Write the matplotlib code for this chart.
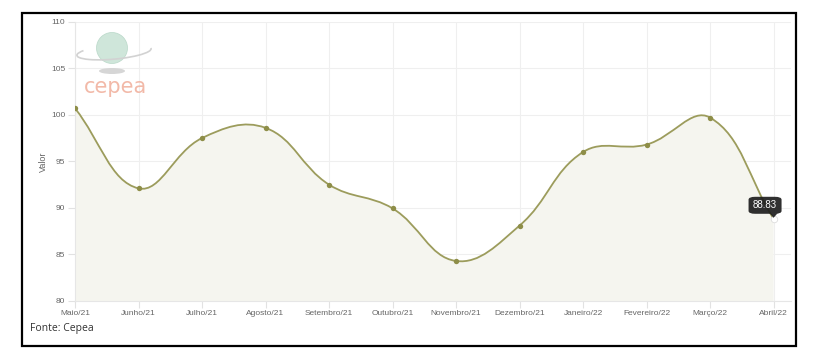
"""Cepea price index line chart (Maio/21 - Abril/22)."""
import matplotlib

matplotlib.use("Agg")
import matplotlib.pyplot as plt  # noqa: E402
import numpy as np  # noqa: E402
from matplotlib.path import Path  # noqa: E402
from matplotlib.patches import PathPatch, FancyBboxPatch, Ellipse, Arc, Rectangle, Polygon  # noqa: E402

months = ["Maio/21", "Junho/21", "Julho/21", "Agosto/21", "Setembro/21", "Outubro/21",
          "Novembro/21", "Dezembro/21", "Janeiro/22", "Fevereiro/22", "Março/22", "Abril/22"]
values = [100.7, 92.1, 97.5, 98.6, 92.5, 89.95, 84.3, 88.1, 96.0, 96.8, 99.7, 88.83]
y_ticks = [80, 85, 90, 95, 100, 105, 110]

C_LINE = "#9c9c5c"
C_POINT = "#8e8e48"
C_FILL = "#f5f5ef"
C_GRID = "#efefef"
C_TICK = "#666666"

plt.rcParams.update({"font.family": ["Liberation Sans", "DejaVu Sans"]})

W, H = 820, 356
fig = plt.figure(figsize=(W / 100, H / 100), dpi=100)
ax = fig.add_axes([75 / W, 55 / H, (790.7 - 75) / W, (334.3 - 55) / H])

x = np.arange(len(values))
ax.set_xlim(0, 11.27)
ax.set_ylim(80, 110)


def spline_path(xs, ys, tension=0.4):
    """Chart.js style bezier through points, computed in display space."""
    pts = ax.transData.transform(np.column_stack([xs, ys]))
    n = len(pts)
    verts, codes = [pts[0]], [Path.MOVETO]
    ctrl = []
    for i in range(n):
        prev = pts[max(i - 1, 0)]
        cur = pts[i]
        nxt = pts[min(i + 1, n - 1)]
        d01 = np.hypot(*(cur - prev))
        d12 = np.hypot(*(nxt - cur))
        tot = d01 + d12 if d01 + d12 > 0 else 1
        fa = tension * d01 / tot
        fb = tension * d12 / tot
        ctrl.append((cur - fa * (nxt - prev), cur + fb * (nxt - prev)))
    for i in range(1, n):
        verts += [ctrl[i - 1][1], ctrl[i][0], pts[i]]
        codes += [Path.CURVE4] * 3
    verts = ax.transData.inverted().transform(np.array(verts))
    return verts, codes


verts, codes = spline_path(x, values)

# filled area under the curve
fill_verts = np.vstack([verts, [[x[-1], 80], [x[0], 80], verts[0]]])
fill_codes = codes + [Path.LINETO, Path.LINETO, Path.CLOSEPOLY]
ax.add_patch(PathPatch(Path(fill_verts, fill_codes), facecolor=C_FILL, edgecolor="none", zorder=1))
ax.add_patch(PathPatch(Path(verts, codes), facecolor="none", edgecolor=C_LINE, linewidth=1.3, zorder=3))

ax.scatter(x[:-1], values[:-1], s=15, color=C_POINT, zorder=4, linewidths=0)
ax.scatter(x[-1:], values[-1:], s=22, color="white", edgecolors="#dddddd", linewidths=0.6, zorder=4)

ax.set_xticks(x)
ax.set_xticklabels(months)
ax.set_yticks(y_ticks)
ax.grid(True, color=C_GRID, linewidth=0.8)
ax.set_axisbelow(True)
for s in ["top", "right"]:
    ax.spines[s].set_visible(False)
for s in ["left", "bottom"]:
    ax.spines[s].set_color("#e6e6e6")
    ax.spines[s].set_linewidth(0.8)
ax.tick_params(axis="both", colors="#e2e2e2", length=5, width=0.8, labelcolor=C_TICK, labelsize=6)
ax.tick_params(axis="x", pad=1.5)
ax.tick_params(axis="y", pad=2)
ax.set_ylabel("Valor", color=C_TICK, fontsize=6.5, labelpad=2)

# tooltip on the last point
tip_x, tip_y = x[-1], values[-1]
px, py = ax.transData.transform((tip_x, tip_y))
bw, bh = 33, 17
box_x, box_y = px - 25, py + 5
fig.patches.append(FancyBboxPatch((box_x / W, box_y / H), bw / W, bh / H,
                                  boxstyle="round,pad=0,rounding_size=0.008",
                                  transform=fig.transFigure, facecolor="#1e1e1e",
                                  edgecolor="none", alpha=0.92, zorder=10))
fig.patches.append(Polygon([((px - 4) / W, (box_y + 0.5) / H), ((px + 4) / W, (box_y + 0.5) / H),
                            (px / W, (box_y - 4) / H)], closed=True, transform=fig.transFigure,
                           facecolor="#1e1e1e", edgecolor="none", alpha=0.92, zorder=10))
fig.text((box_x + bw / 2) / W, (box_y + bh / 2) / H, f"{values[-1]:.2f}", color="white",
         fontsize=7, ha="center", va="center", zorder=11)

# cepea logo (approximate)
fig.patches.append(Ellipse((112 / W, (H - 71) / H), 26 / W, 6 / H, transform=fig.transFigure,
                           facecolor="#d6d6d6", edgecolor="none", zorder=5))
fig.patches.append(Ellipse((112 / W, (H - 48) / H), 31 / W, 31 / H, transform=fig.transFigure,
                           facecolor="#cfe6da", edgecolor="#b9d8c8", linewidth=0.5, zorder=5))
fig.patches.append(Arc((114 / W, (H - 52) / H), 76 / W, 14 / H, angle=14, theta1=160, theta2=360,
                       transform=fig.transFigure, edgecolor="#d2d2d2", linewidth=1.2, zorder=6))
fig.text(116 / W, (H - 87) / H, "cepea", color="#f2b9a8", fontsize=15, ha="center",
         va="center", family="DejaVu Sans", zorder=6)

fig.text(30 / W, (H - 329) / H, "Fonte: Cepea", color="#333333", fontsize=7.5,
         family="Open Sans", ha="left", va="center")

# outer border
fig.patches.append(Rectangle((22 / W, 10 / H), (796 - 22) / W, (343 - 10) / H,
                             transform=fig.transFigure, facecolor="none",
                             edgecolor="black", linewidth=1.6, zorder=20))

fig.savefig("out.png", dpi=100)
